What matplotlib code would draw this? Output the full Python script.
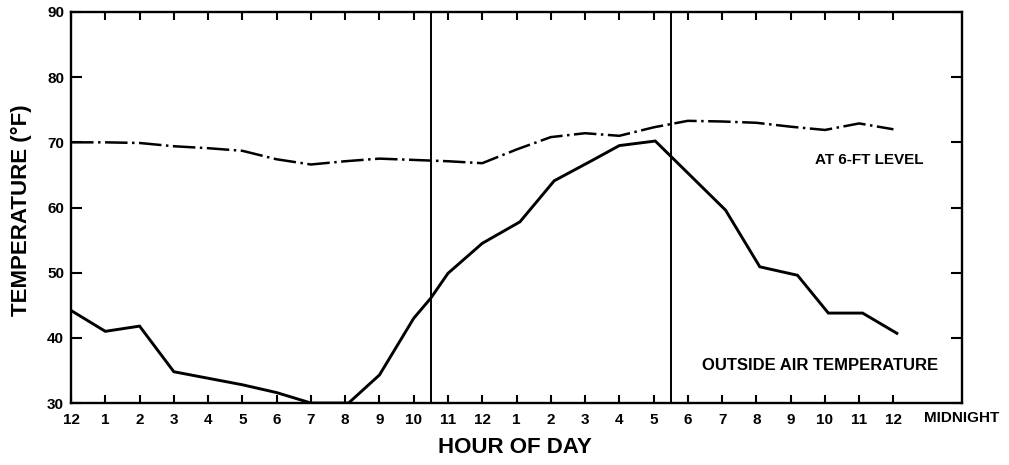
import matplotlib
matplotlib.use("Agg")
import matplotlib.pyplot as plt

plt.rcParams['font.family'] = ['Liberation Sans', 'DejaVu Sans']
plt.rcParams['font.weight'] = 'bold'

# hours after noon (0 = 12 noon, 24 = 12 midnight)
hours = list(range(0, 25))
hour_labels = ['12', '1', '2', '3', '4', '5', '6', '7', '8', '9', '10', '11',
               '12', '1', '2', '3', '4', '5', '6', '7', '8', '9', '10', '11', '12']

# outside air temperature (deg F)
outside_hours = [0, 1, 2, 3, 4, 5, 6, 7, 8.1, 9, 10, 10.5, 11, 12, 13.1, 14.1,
                 15.2, 16, 17.05, 19.1, 20.1, 21.2, 22.1, 23.1, 24.1]
outside_temp = [44.2, 41, 41.8, 34.8, 33.8, 32.8, 31.6, 30, 30, 34.3, 43, 46.1,
                49.9, 54.5, 57.8, 64.1, 67.2, 69.5, 70.2, 59.6, 50.9, 49.6,
                43.8, 43.8, 40.7]

# temperature at the 6-ft level (deg F)
level_temp = [70.0, 70.0, 69.9, 69.4, 69.1, 68.7, 67.4, 66.6, 67.1, 67.5, 67.3,
              67.1, 66.8, 68.9, 70.8, 71.4, 71.0, 72.3, 73.3, 73.2, 73.0, 72.4,
              71.9, 72.9, 72.0]

fig = plt.figure(figsize=(10.09, 4.65), dpi=100)
ax = fig.add_axes([0.0704, 0.1333, 0.8830, 0.8409])

ax.plot(outside_hours, outside_temp, color='black', linewidth=2.1,
        solid_joinstyle='miter')
ax.plot(hours, level_temp, color='black', linewidth=1.8,
        linestyle=(0, (9, 1.8, 1, 1.8)))

# sunrise / sunset markers
ax.axvline(10.5, color='black', linewidth=1.4)
ax.axvline(17.5, color='black', linewidth=1.4)

ax.set_xlim(0, 26)
ax.set_ylim(30, 90)
ax.set_xticks(hours)
ax.set_xticklabels(hour_labels, fontsize=11, fontweight='bold')
ax.set_yticks([30, 40, 50, 60, 70, 80, 90])
ax.set_yticklabels(['30', '40', '50', '60', '70', '80', '90'], fontsize=11,
                   fontweight='bold')
ax.tick_params(axis='both', direction='in', width=1.5, length=6,
               top=True, right=True, labeltop=False, labelright=False)
ax.tick_params(axis='x', pad=7)
ax.tick_params(axis='y', pad=5, length=8)

for s in ax.spines.values():
    s.set_linewidth(1.7)

ax.text(26, 30 - 1.2, 'MIDNIGHT', ha='center', va='top',
        fontsize=11, fontweight='heavy', clip_on=False)

ax.text(23.3, 67.3, 'AT 6-FT LEVEL', ha='center', va='center', fontsize=11,
        fontweight='bold')
ax.text(21.87, 35.8, 'OUTSIDE AIR TEMPERATURE', ha='center', va='center',
        fontsize=12, fontweight='bold')

fig.text(0.510, 0.037, 'HOUR OF DAY', ha='center', va='center', fontsize=16,
         fontweight='bold')
fig.text(0.021, 0.548, 'TEMPERATURE (°F)', ha='center', va='center',
         rotation=90, fontsize=16, fontweight='bold')

fig.savefig('out.png', dpi=100, facecolor='white')
